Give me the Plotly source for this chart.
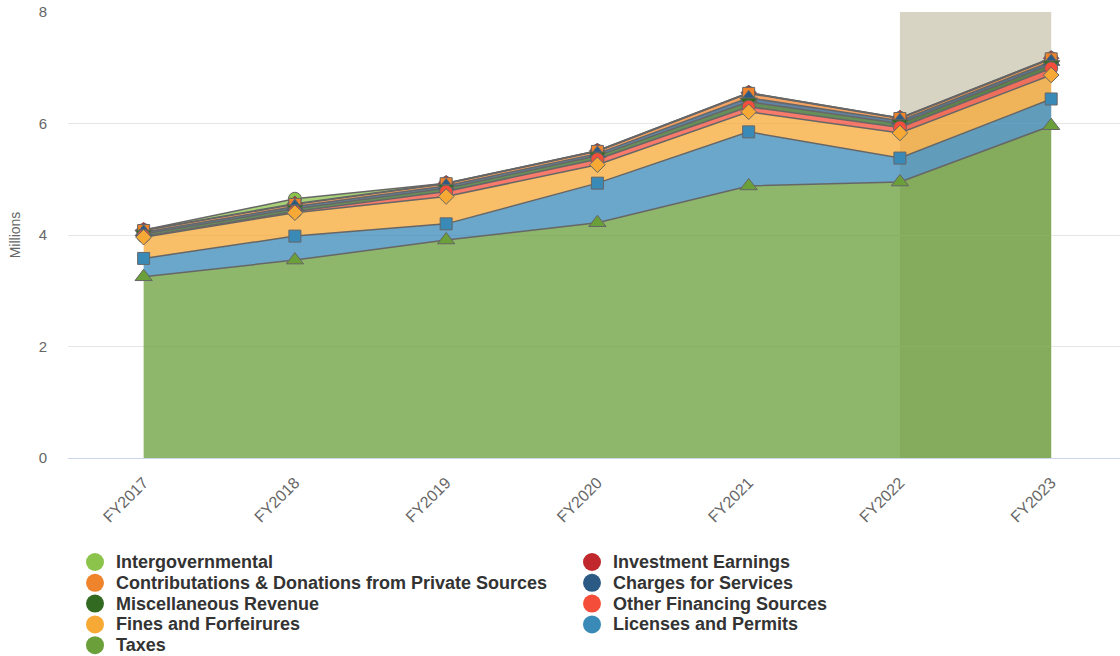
import numpy as np
import plotly.graph_objects as go

years = ["FY2017", "FY2018", "FY2019", "FY2020", "FY2021", "FY2022", "FY2023"]

# Revenue by source, in millions (stacked bottom to top)
taxes = [3.25, 3.55, 3.91, 4.22, 4.88, 4.95, 5.96]
licenses_permits = [0.33, 0.43, 0.29, 0.71, 0.97, 0.43, 0.48]
fines_forfeitures = [0.38, 0.42, 0.49, 0.33, 0.36, 0.45, 0.43]
other_financing = [0.02, 0.02, 0.09, 0.10, 0.09, 0.10, 0.12]
misc_revenue = [0.04, 0.05, 0.06, 0.06, 0.09, 0.07, 0.07]
charges_services = [0.03, 0.04, 0.04, 0.04, 0.07, 0.05, 0.05]
contributions = [0.03, 0.04, 0.04, 0.04, 0.08, 0.04, 0.05]
investment_earnings = [0.01, 0.01, 0.01, 0.01, 0.01, 0.01, 0.01]
intergovernmental = [0.00, 0.09, 0.00, 0.00, 0.00, 0.00, 0.00]

# name, values, colour, marker symbol, marker size (bottom of stack first)
series = [
    ("Taxes", taxes, "#6a9f3a", "triangle-up", 15),
    ("Licenses and Permits", licenses_permits, "#3a8ab8", "square", 12),
    ("Fines and Forfeirures", fines_forfeitures, "#f7a935", "diamond", 12),
    ("Other Financing Sources", other_financing, "#f44d3a", "circle", 13),
    ("Miscellaneous Revenue", misc_revenue, "#336a22", "triangle-down", 15),
    ("Charges for Services", charges_services, "#2b5a84", "triangle-up", 15),
    ("Contributations & Donations from Private Sources", contributions, "#f0842d", "square", 12),
    ("Investment Earnings", investment_earnings, "#c0282d", "diamond", 12),
    ("Intergovernmental", intergovernmental, "#8cc34b", "circle", 13),
]

# Legend layout: two columns, filled row by row
legend_order = [
    "Intergovernmental", "Investment Earnings",
    "Contributations & Donations from Private Sources", "Charges for Services",
    "Miscellaneous Revenue", "Other Financing Sources",
    "Fines and Forfeirures", "Licenses and Permits",
    "Taxes",
]


def rgba(hex_color, alpha):
    h = hex_color.lstrip("#")
    r, g, b = int(h[0:2], 16), int(h[2:4], 16), int(h[4:6], 16)
    return f"rgba({r},{g},{b},{alpha})"


fig = go.Figure()

# Stacked areas
for name, values, color, symbol, msize in series:
    fig.add_trace(go.Scatter(
        x=years, y=values, name=name, stackgroup="revenue",
        mode="lines",
        line=dict(color="#666666", width=1.5),
        fillcolor=rgba(color, 0.75),
        showlegend=False, hoverinfo="skip",
    ))

# Point markers at each stack level; lower layers are drawn last so they sit on top
totals = np.cumsum([s[1] for s in series], axis=0)
for (name, values, color, symbol, msize), level in reversed(list(zip(series, totals))):
    fig.add_trace(go.Scatter(
        x=years, y=level, name=name, mode="markers",
        marker=dict(symbol=symbol, size=msize, color=color,
                    line=dict(color="#666666", width=1)),
        customdata=values,
        hovertemplate="%{x}<br>" + name + ": %{customdata:.2f}M<extra></extra>",
        showlegend=False,
    ))

# Highlighted band between the last two fiscal years
fig.add_shape(type="rect", xref="x", yref="y", x0=5, x1=6, y0=0, y1=8,
              fillcolor="#d8d4c3", line=dict(width=0), layer="below")

# Legend: circle swatch + bold label
PLOT_L, PLOT_W, PLOT_B, PLOT_H = 68, 1052, 458, 446
colors = {s[0]: s[2] for s in series}
for i, name in enumerate(legend_order):
    row, col = divmod(i, 2)
    cx = 95 + col * 497
    cy = 562 + row * 20.8
    xp = (cx - PLOT_L) / PLOT_W
    yp = (PLOT_B - cy) / PLOT_H
    fig.add_shape(type="circle", xref="paper", yref="paper",
                  xsizemode="pixel", ysizemode="pixel",
                  xanchor=xp, yanchor=yp, x0=-9, x1=9, y0=-9, y1=9,
                  fillcolor=colors[name], line=dict(width=0))
    fig.add_annotation(
        text=name, xref="paper", yref="paper",
        x=(cx + 19 - PLOT_L) / PLOT_W, y=yp,
        xanchor="left", yanchor="middle", showarrow=False,
        font=dict(size=18, color="#333333", weight="bold",
                  family="Liberation Sans, Arial, sans-serif"),
    )

fig.update_layout(
    width=1120, height=656,
    margin=dict(l=PLOT_L, r=0, t=12, b=656 - PLOT_B),
    plot_bgcolor="white", paper_bgcolor="white",
    font=dict(family="Liberation Sans, Arial, sans-serif", color="#666666"),
    showlegend=False,
    xaxis=dict(
        range=[-0.5, 6.455], tickangle=-45, showgrid=False,
        showline=True, linecolor="#ccd6eb", linewidth=1,
        ticks="", tickfont=dict(size=16, color="#666666"),
        ticklabelstandoff=8, automargin=False, fixedrange=True,
    ),
    yaxis=dict(
        range=[0, 8], tickvals=[0, 2, 4, 6, 8], showgrid=True,
        gridcolor="#e6e6e6", gridwidth=1, zeroline=False,
        tickfont=dict(size=15, color="#666666"), ticklabelstandoff=20,
        title=dict(text="Millions", font=dict(size=14, color="#666666"), standoff=14),
        automargin=False, fixedrange=True,
    ),
)

fig.write_html("out.html")
